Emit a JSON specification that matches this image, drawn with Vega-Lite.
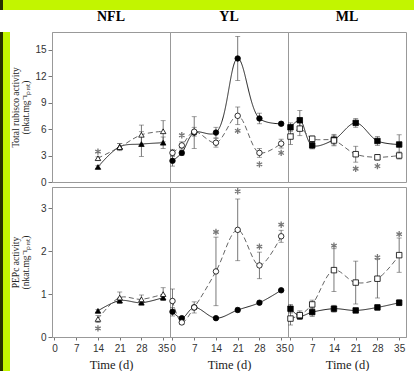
{
  "$schema": "https://vega.github.io/schema/vega-lite/v6.json",
  "padding": 0,
  "background": "white",
  "spacing": 0,
  "datasets": {
    "d": [
      {"e":"R","leaf":"NFL","trt":"C","day":14,"v":1.7,"lo":1.55,"hi":1.85},
      {"e":"R","leaf":"NFL","trt":"C","day":21,"v":4.0,"lo":3.65,"hi":4.35},
      {"e":"R","leaf":"NFL","trt":"C","day":28,"v":4.3,"lo":2.9,"hi":5.7},
      {"e":"R","leaf":"NFL","trt":"C","day":35,"v":4.45,"lo":3.8,"hi":5.1},
      {"e":"R","leaf":"NFL","trt":"T","day":14,"v":2.7,"lo":2.55,"hi":2.85,"s":3.45},
      {"e":"R","leaf":"NFL","trt":"T","day":21,"v":3.95,"lo":3.55,"hi":4.35},
      {"e":"R","leaf":"NFL","trt":"T","day":28,"v":5.35,"lo":4.25,"hi":6.45},
      {"e":"R","leaf":"NFL","trt":"T","day":35,"v":5.75,"lo":4.55,"hi":6.95},
      {"e":"R","leaf":"YL","trt":"C","day":0,"v":2.4,"lo":1.8,"hi":3.0},
      {"e":"R","leaf":"YL","trt":"C","day":3,"v":3.3,"lo":3.0,"hi":3.6},
      {"e":"R","leaf":"YL","trt":"C","day":7,"v":5.6,"lo":3.8,"hi":7.4},
      {"e":"R","leaf":"YL","trt":"C","day":14,"v":5.6,"lo":5.0,"hi":6.2},
      {"e":"R","leaf":"YL","trt":"C","day":21,"v":14.0,"lo":11.5,"hi":16.5},
      {"e":"R","leaf":"YL","trt":"C","day":28,"v":7.2,"lo":6.6,"hi":7.8},
      {"e":"R","leaf":"YL","trt":"C","day":35,"v":6.6,"lo":6.4,"hi":6.8},
      {"e":"R","leaf":"YL","trt":"T","day":0,"v":3.3,"lo":2.9,"hi":3.7},
      {"e":"R","leaf":"YL","trt":"T","day":3,"v":4.15,"lo":3.75,"hi":4.55,"s":5.3},
      {"e":"R","leaf":"YL","trt":"T","day":7,"v":5.7,"lo":5.2,"hi":6.2},
      {"e":"R","leaf":"YL","trt":"T","day":14,"v":4.45,"lo":3.95,"hi":4.95},
      {"e":"R","leaf":"YL","trt":"T","day":21,"v":7.5,"lo":6.5,"hi":8.5,"s":5.8},
      {"e":"R","leaf":"YL","trt":"T","day":28,"v":3.3,"lo":2.8,"hi":3.8,"s":2.0},
      {"e":"R","leaf":"YL","trt":"T","day":35,"v":4.35,"lo":3.85,"hi":4.85,"s":3.3},
      {"e":"R","leaf":"ML","trt":"C","day":0,"v":6.2,"lo":5.7,"hi":6.7},
      {"e":"R","leaf":"ML","trt":"C","day":3,"v":7.0,"lo":5.9,"hi":8.1},
      {"e":"R","leaf":"ML","trt":"C","day":7,"v":4.15,"lo":3.75,"hi":4.55},
      {"e":"R","leaf":"ML","trt":"C","day":14,"v":4.8,"lo":4.2,"hi":5.4},
      {"e":"R","leaf":"ML","trt":"C","day":21,"v":6.7,"lo":6.2,"hi":7.2},
      {"e":"R","leaf":"ML","trt":"C","day":28,"v":4.65,"lo":4.15,"hi":5.15},
      {"e":"R","leaf":"ML","trt":"C","day":35,"v":4.25,"lo":3.15,"hi":5.35},
      {"e":"R","leaf":"ML","trt":"T","day":0,"v":5.15,"lo":4.25,"hi":6.05},
      {"e":"R","leaf":"ML","trt":"T","day":3,"v":6.05,"lo":5.25,"hi":6.85},
      {"e":"R","leaf":"ML","trt":"T","day":7,"v":4.9,"lo":4.6,"hi":5.2},
      {"e":"R","leaf":"ML","trt":"T","day":14,"v":4.7,"lo":4.1,"hi":5.3},
      {"e":"R","leaf":"ML","trt":"T","day":21,"v":3.15,"lo":2.25,"hi":4.05,"s":1.5},
      {"e":"R","leaf":"ML","trt":"T","day":28,"v":2.8,"lo":2.5,"hi":3.1,"s":1.8},
      {"e":"R","leaf":"ML","trt":"T","day":35,"v":3.0,"lo":2.6,"hi":3.4},
      {"e":"P","leaf":"NFL","trt":"C","day":14,"v":0.61,"lo":0.58,"hi":0.64},
      {"e":"P","leaf":"NFL","trt":"C","day":21,"v":0.85,"lo":0.79,"hi":0.91},
      {"e":"P","leaf":"NFL","trt":"C","day":28,"v":0.8,"lo":0.75,"hi":0.85},
      {"e":"P","leaf":"NFL","trt":"C","day":35,"v":0.92,"lo":0.86,"hi":0.98},
      {"e":"P","leaf":"NFL","trt":"T","day":14,"v":0.42,"lo":0.34,"hi":0.5,"s":0.2},
      {"e":"P","leaf":"NFL","trt":"T","day":21,"v":0.92,"lo":0.79,"hi":1.05},
      {"e":"P","leaf":"NFL","trt":"T","day":28,"v":0.88,"lo":0.78,"hi":0.98},
      {"e":"P","leaf":"NFL","trt":"T","day":35,"v":1.0,"lo":0.85,"hi":1.15},
      {"e":"P","leaf":"YL","trt":"C","day":0,"v":0.59,"lo":0.49,"hi":0.69},
      {"e":"P","leaf":"YL","trt":"C","day":3,"v":0.44,"lo":0.41,"hi":0.47},
      {"e":"P","leaf":"YL","trt":"C","day":7,"v":0.69,"lo":0.64,"hi":0.74},
      {"e":"P","leaf":"YL","trt":"C","day":14,"v":0.44,"lo":0.42,"hi":0.46},
      {"e":"P","leaf":"YL","trt":"C","day":21,"v":0.63,"lo":0.58,"hi":0.68},
      {"e":"P","leaf":"YL","trt":"C","day":28,"v":0.8,"lo":0.76,"hi":0.84},
      {"e":"P","leaf":"YL","trt":"C","day":35,"v":1.09,"lo":1.07,"hi":1.11},
      {"e":"P","leaf":"YL","trt":"T","day":0,"v":0.84,"lo":0.56,"hi":1.12},
      {"e":"P","leaf":"YL","trt":"T","day":3,"v":0.34,"lo":0.29,"hi":0.39},
      {"e":"P","leaf":"YL","trt":"T","day":7,"v":0.69,"lo":0.56,"hi":0.82},
      {"e":"P","leaf":"YL","trt":"T","day":14,"v":1.53,"lo":0.73,"hi":2.33,"s":2.45},
      {"e":"P","leaf":"YL","trt":"T","day":21,"v":2.5,"lo":1.78,"hi":3.22,"s":3.4},
      {"e":"P","leaf":"YL","trt":"T","day":28,"v":1.67,"lo":1.36,"hi":1.98,"s":2.11},
      {"e":"P","leaf":"YL","trt":"T","day":35,"v":2.35,"lo":2.21,"hi":2.49,"s":2.62},
      {"e":"P","leaf":"ML","trt":"C","day":0,"v":0.66,"lo":0.56,"hi":0.76},
      {"e":"P","leaf":"ML","trt":"C","day":3,"v":0.49,"lo":0.41,"hi":0.57},
      {"e":"P","leaf":"ML","trt":"C","day":7,"v":0.58,"lo":0.48,"hi":0.68},
      {"e":"P","leaf":"ML","trt":"C","day":14,"v":0.66,"lo":0.58,"hi":0.74},
      {"e":"P","leaf":"ML","trt":"C","day":21,"v":0.62,"lo":0.57,"hi":0.67},
      {"e":"P","leaf":"ML","trt":"C","day":28,"v":0.69,"lo":0.63,"hi":0.75},
      {"e":"P","leaf":"ML","trt":"C","day":35,"v":0.8,"lo":0.73,"hi":0.87},
      {"e":"P","leaf":"ML","trt":"T","day":0,"v":0.43,"lo":0.28,"hi":0.58},
      {"e":"P","leaf":"ML","trt":"T","day":3,"v":0.51,"lo":0.41,"hi":0.61},
      {"e":"P","leaf":"ML","trt":"T","day":7,"v":0.76,"lo":0.66,"hi":0.86},
      {"e":"P","leaf":"ML","trt":"T","day":14,"v":1.56,"lo":1.06,"hi":2.06,"s":2.13},
      {"e":"P","leaf":"ML","trt":"T","day":21,"v":1.27,"lo":0.77,"hi":1.77},
      {"e":"P","leaf":"ML","trt":"T","day":28,"v":1.36,"lo":0.91,"hi":1.81,"s":1.86},
      {"e":"P","leaf":"ML","trt":"T","day":35,"v":1.91,"lo":1.51,"hi":2.31,"s":2.4}
    ]
  },
  "vconcat": [
    {
      "spacing": 0,
      "hconcat": [
        {"width": 3, "height": 10, "data": {"values": []}, "mark": "rect", "view": {"fill": "#263000", "stroke": null}},
        {"width": 411, "height": 10, "data": {"values": []}, "mark": "rect", "view": {"fill": "#c2f500", "stroke": null}}
      ]
    },
    {
      "spacing": 0,
      "hconcat": [
        {"width": 3, "height": 361, "data": {"values": []}, "mark": "rect", "view": {"fill": "#263000", "stroke": null}},
        {"width": 7, "height": 361, "data": {"values": []}, "mark": "rect", "view": {"fill": "#c2f500", "stroke": null}},
        {
          "spacing": -9,
          "vconcat": [
            {
              "data": {"name": "d"},
              "transform": [{"filter": "datum.e == 'R'"}],
              "facet": {"column": {"field": "leaf", "type": "nominal", "sort": ["NFL", "YL", "ML"], "header": {"title": null, "labelFont": "Liberation Serif", "labelFontSize": 14, "labelFontWeight": "bold", "labelColor": "black", "labelPadding": 8}}},
              "spacing": 0,
              "bounds": "flush",
              "spec": {
                "width": 118,
                "height": 150,
                "encoding": {
                  "x": {"field": "day", "type": "quantitative", "scale": {"domain": [-0.8, 37.2], "nice": false, "zero": false}, "axis": null}
                },
                "layer": [
                  {"mark": {"type": "line", "interpolate": "catmull-rom", "strokeWidth": 1},
                   "encoding": {
                     "y": {"field": "v", "type": "quantitative", "title": ["Total rubisco activity", "(nkat.mg⁻¹ₚᵣₒₜ)"], "scale": {"domain": [0, 17], "nice": false}, "axis": {"values": [0, 3, 6, 9, 12, 15], "labelOverlap": false}},
                     "color": {"field": "trt", "type": "nominal", "scale": {"domain": ["C", "T"], "range": ["#222222", "#666666"]}, "legend": null},
                     "strokeDash": {"field": "trt", "type": "nominal", "scale": {"domain": ["C", "T"], "range": [[1, 0], [5, 3]]}, "legend": null}
                   }},
                  {"mark": {"type": "errorbar", "ticks": {"size": 5}, "thickness": 0.8, "color": "#555555"},
                   "encoding": {
                     "y": {"field": "lo", "type": "quantitative", "title": ["Total rubisco activity", "(nkat.mg⁻¹ₚᵣₒₜ)"], "axis": {"values": [0, 3, 6, 9, 12, 15], "labelOverlap": false}},
                     "y2": {"field": "hi"}
                   }},
                  {"mark": {"type": "point", "filled": true, "stroke": "black", "strokeWidth": 0.8, "size": 30, "opacity": 1},
                   "encoding": {
                     "y": {"field": "v", "type": "quantitative", "title": ["Total rubisco activity", "(nkat.mg⁻¹ₚᵣₒₜ)"], "axis": {"values": [0, 3, 6, 9, 12, 15], "labelOverlap": false}},
                     "shape": {"field": "leaf", "type": "nominal", "scale": {"domain": ["NFL", "YL", "ML"], "range": ["triangle-up", "circle", "square"]}, "legend": null},
                     "fill": {"field": "trt", "type": "nominal", "scale": {"domain": ["C", "T"], "range": ["black", "white"]}, "legend": null}
                   }},
                  {"transform": [{"filter": "datum.s != null"}],
                   "mark": {"type": "point", "shape": "M0,-1L0,1M-0.87,-0.5L0.87,0.5M-0.87,0.5L0.87,-0.5", "filled": false, "stroke": "#777777", "strokeWidth": 1.3, "size": 40, "opacity": 1},
                   "encoding": {
                     "y": {"field": "s", "type": "quantitative", "title": ["Total rubisco activity", "(nkat.mg⁻¹ₚᵣₒₜ)"], "axis": {"values": [0, 3, 6, 9, 12, 15], "labelOverlap": false}}
                   }}
                ]
              }
            },
            {
              "data": {"name": "d"},
              "transform": [{"filter": "datum.e == 'P'"}],
              "facet": {"column": {"field": "leaf", "type": "nominal", "sort": ["NFL", "YL", "ML"], "header": {"title": null, "labels": false}}},
              "spacing": 0,
              "bounds": "flush",
              "spec": {
                "width": 118,
                "height": 150,
                "encoding": {
                  "x": {"field": "day", "type": "quantitative", "title": "Time (d)", "scale": {"domain": [-0.8, 37.2], "nice": false, "zero": false}, "axis": {"values": [0, 7, 14, 21, 28, 35]}}
                },
                "layer": [
                  {"mark": {"type": "line", "interpolate": "catmull-rom", "strokeWidth": 1},
                   "encoding": {
                     "y": {"field": "v", "type": "quantitative", "title": ["PEPc activity", "(nkat.mg⁻¹ₚᵣₒₜ)"], "scale": {"domain": [0, 3.5], "nice": false}, "axis": {"values": [0, 1, 2, 3], "labelOverlap": false}},
                     "color": {"field": "trt", "type": "nominal", "scale": {"domain": ["C", "T"], "range": ["#222222", "#666666"]}, "legend": null},
                     "strokeDash": {"field": "trt", "type": "nominal", "scale": {"domain": ["C", "T"], "range": [[1, 0], [5, 3]]}, "legend": null}
                   }},
                  {"mark": {"type": "errorbar", "ticks": {"size": 5}, "thickness": 0.8, "color": "#555555"},
                   "encoding": {
                     "y": {"field": "lo", "type": "quantitative", "title": ["PEPc activity", "(nkat.mg⁻¹ₚᵣₒₜ)"], "axis": {"values": [0, 1, 2, 3], "labelOverlap": false}},
                     "y2": {"field": "hi"}
                   }},
                  {"mark": {"type": "point", "filled": true, "stroke": "black", "strokeWidth": 0.8, "size": 30, "opacity": 1},
                   "encoding": {
                     "y": {"field": "v", "type": "quantitative", "title": ["PEPc activity", "(nkat.mg⁻¹ₚᵣₒₜ)"], "axis": {"values": [0, 1, 2, 3], "labelOverlap": false}},
                     "shape": {"field": "leaf", "type": "nominal", "scale": {"domain": ["NFL", "YL", "ML"], "range": ["triangle-up", "circle", "square"]}, "legend": null},
                     "fill": {"field": "trt", "type": "nominal", "scale": {"domain": ["C", "T"], "range": ["black", "white"]}, "legend": null}
                   }},
                  {"transform": [{"filter": "datum.s != null"}],
                   "mark": {"type": "point", "shape": "M0,-1L0,1M-0.87,-0.5L0.87,0.5M-0.87,0.5L0.87,-0.5", "filled": false, "stroke": "#777777", "strokeWidth": 1.3, "size": 40, "opacity": 1},
                   "encoding": {
                     "y": {"field": "s", "type": "quantitative", "title": ["PEPc activity", "(nkat.mg⁻¹ₚᵣₒₜ)"], "axis": {"values": [0, 1, 2, 3], "labelOverlap": false}}
                   }}
                ]
              }
            }
          ]
        }
      ]
    }
  ],
  "config": {
    "view": {"stroke": "#999999"},
    "axis": {"grid": false},
    "axisX": {"domainColor": "#999999", "tickColor": "#777777", "tickSize": 3, "labelFont": "Liberation Sans", "labelFontSize": 10, "labelColor": "#333333", "labelFlush": false, "labelPadding": 3, "titleFont": "Liberation Serif", "titleFontSize": 12.5, "titleFontWeight": "normal", "titleColor": "#222222", "titlePadding": 5},
    "axisY": {"domainColor": "#999999", "tickColor": "#777777", "tickSize": 4, "labelFont": "Liberation Sans", "labelFontSize": 10, "labelColor": "#333333", "labelPadding": 2, "titleFont": "Liberation Serif", "titleFontSize": 9.5, "titleFontWeight": "normal", "titleColor": "#222222", "titlePadding": 2, "minExtent": 20, "maxExtent": 20, "titleLineHeight": 10}
  }
}
